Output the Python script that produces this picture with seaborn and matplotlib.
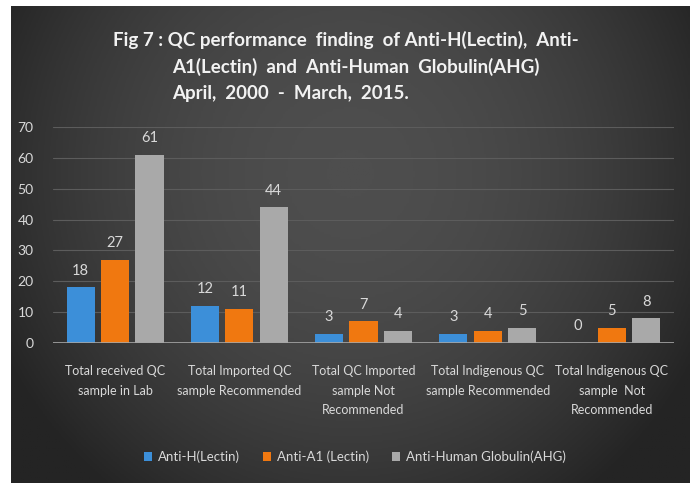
import numpy as np
import pandas as pd
import matplotlib.pyplot as plt
import seaborn as sns

# data
categories = ["Total received QC\nsample in Lab",
              "Total Imported QC\nsample Recommended",
              "Total QC Imported\nsample Not\nRecommended",
              "Total Indigenous QC\nsample Recommended",
              "Total Indigenous QC\nsample  Not\nRecommended"]
series = ["Anti-H(Lectin)", "Anti-A1 (Lectin)", "Anti-Human Globulin(AHG)"]
anti_h = [18, 12, 3, 3, 0]
anti_a1 = [27, 11, 7, 4, 5]
ahg = [61, 44, 4, 5, 8]
colors = ["#3c8fd9", "#f07810", "#a9a9a9"]

df = pd.DataFrame({
    "Category": categories * 3,
    "Series": [series[0]] * 5 + [series[1]] * 5 + [series[2]] * 5,
    "Value": anti_h + anti_a1 + ahg,
})

sns.set_style("dark")
plt.rcParams["font.family"] = ["Lato", "DejaVu Sans"]

W, H = 694, 483
fig = plt.figure(figsize=(W / 100, H / 100), dpi=100)
fig.patch.set_facecolor("white")

# dark panel with a soft gradient
bg = fig.add_axes([11 / W, 0, (690 - 11) / W, 1 - 6 / H])
xx = np.linspace(-1, 1, 300)
yy = np.linspace(-1, 1, 200)
X, Y = np.meshgrid(xx, yy)
g = np.clip(1 - 0.75 * X ** 2 - 0.35 * (Y + 0.3) ** 2, 0, 1)
bg.imshow(g, cmap=sns.blend_palette(["#242424", "#4e4e4e"], as_cmap=True),
          aspect="auto", extent=[0, 1, 0, 1], vmin=0, vmax=1)
bg.set_axis_off()

ax = fig.add_axes([53 / W, 1 - 343 / H, (674 - 53) / W, (343 - 127) / H])
ax.set_facecolor("none")
sns.barplot(data=df, x="Category", y="Value", hue="Series", palette=colors,
            width=0.83, gap=0.18, ax=ax, saturation=1, zorder=3, linewidth=0)

ax.set_ylim(0, 70)
ax.set_yticks(range(0, 71, 10))
ax.grid(axis="y", color="#5c5c5c", linewidth=0.8, zorder=0)
ax.grid(axis="x", visible=False)
ax.axhline(0, color="#a6a6a6", linewidth=1.2, zorder=4)
for s in ax.spines.values():
    s.set_visible(False)
ax.set_xlabel("")
ax.set_ylabel("")
ax.tick_params(axis="y", colors="#d9d9d9", labelsize=10, length=0, pad=14)
ax.tick_params(axis="x", colors="#d9d9d9", labelsize=9, length=0, pad=16)
for t in ax.get_xticklabels():
    t.set_linespacing(1.75)

for c in ax.containers:
    ax.bar_label(c, color="#d9d9d9", fontsize=10.5, padding=7)

handles, labels = ax.get_legend_handles_labels()
ax.legend(handles, labels, loc="center", bbox_to_anchor=(355 / W, 1 - 457 / H),
          bbox_transform=fig.transFigure, ncol=3, frameon=False,
          handlelength=0.6, handleheight=0.6, handletextpad=0.4,
          columnspacing=1.8, labelcolor="#d9d9d9", fontsize=9.5)

title_kw = dict(color="#f2f2f2", fontsize=13.5, fontweight="bold", va="center", ha="left")
fig.text(113 / W, 1 - 40 / H, "Fig 7 : QC performance  finding  of Anti-H(Lectin),  Anti-", **title_kw)
fig.text(172 / W, 1 - 67 / H, "A1(Lectin)  and  Anti-Human  Globulin(AHG)", **title_kw)
fig.text(172 / W, 1 - 93 / H, "April,  2000  -  March,  2015.", **title_kw)

fig.savefig("out.png", dpi=100)
